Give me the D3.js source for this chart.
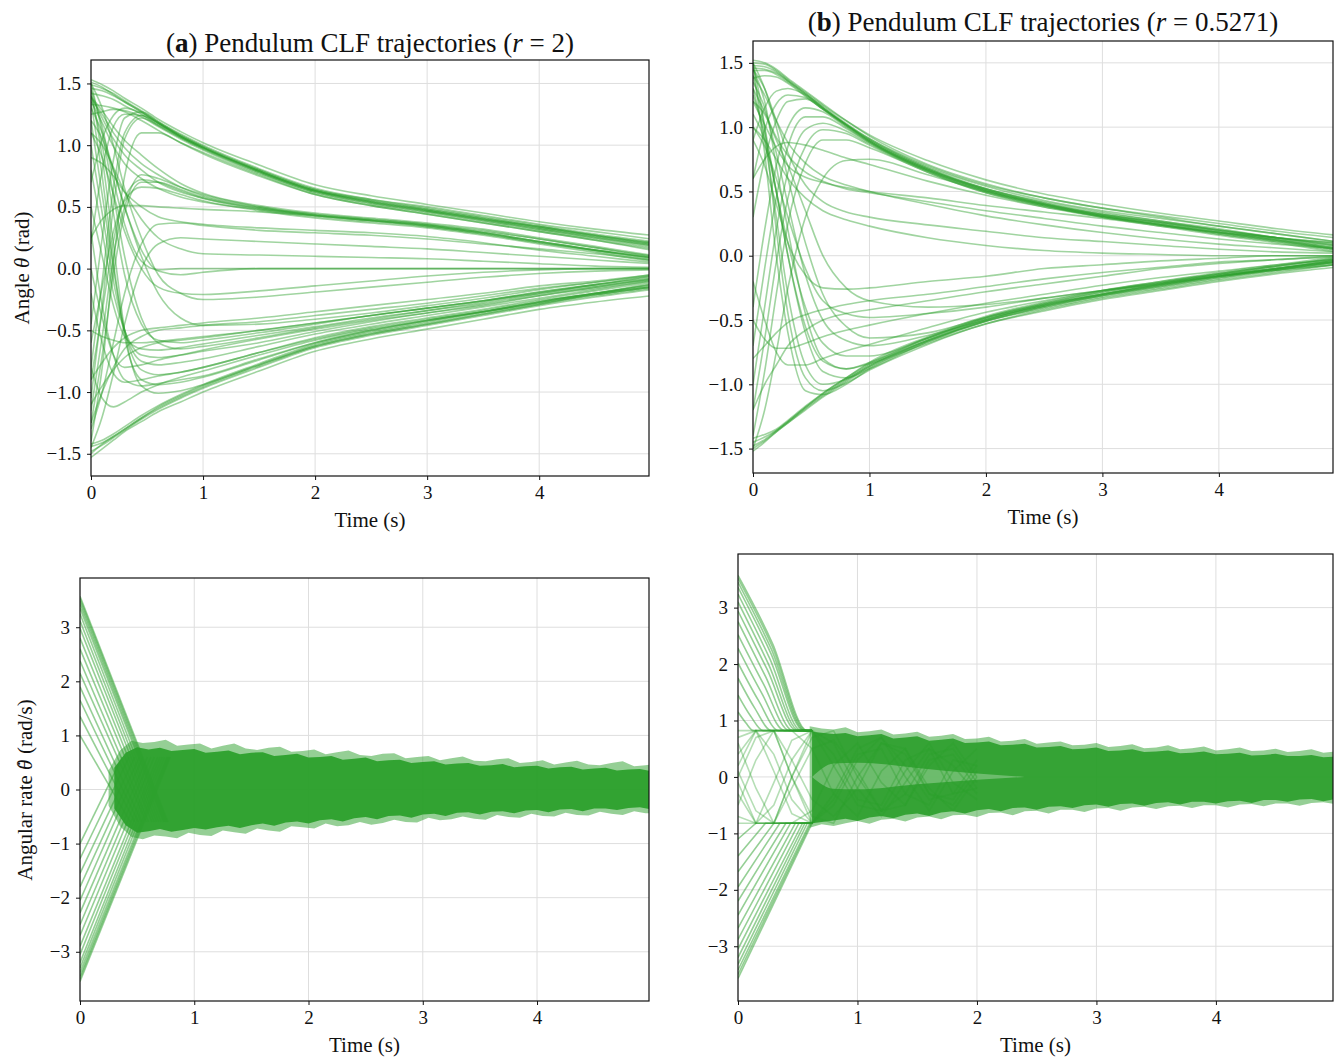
<!DOCTYPE html>
<html>
<head>
<meta charset="utf-8">
<script src="https://cdn.jsdelivr.net/npm/d3@7"></script>
<style>
  body { margin: 0; background: #fff; }
  svg text { font-family: "Liberation Serif", "Times New Roman", serif; fill: #111; }
</style>
</head>
<body>
<div id="chart"></div>
<script>
// ---------- data ----------
const xTicks = [0, 1, 2, 3, 4];
const angleTicks = [-1.5, -1.0, -0.5, 0.0, 0.5, 1.0, 1.5];
const rateTicks = [-3, -2, -1, 0, 1, 2, 3];

// sample times (s) for the angle trajectories
const tKnots = [0, 0.1, 0.2, 0.3, 0.45, 0.6, 0.8, 1, 1.5, 2, 2.5, 3, 3.5, 4, 4.5, 5];

// (a) angle trajectories, r = 2
const angleA = [
  [1.53,1.49,1.44,1.38,1.30,1.21,1.11,1.02,0.84,0.68,0.59,0.52,0.45,0.38,0.32,0.27],
  [1.49,1.46,1.42,1.36,1.28,1.19,1.09,1.00,0.81,0.65,0.56,0.49,0.42,0.35,0.28,0.22],
  [1.42,1.40,1.37,1.32,1.25,1.16,1.06,0.97,0.78,0.62,0.53,0.46,0.39,0.32,0.25,0.19],
  [1.33,1.32,1.30,1.27,1.20,1.12,1.02,0.93,0.75,0.60,0.51,0.44,0.37,0.30,0.23,0.16],
  [1.25,1.27,1.29,1.28,1.23,1.15,1.05,0.96,0.77,0.61,0.52,0.45,0.38,0.31,0.24,0.17],
  [0.70,1.05,1.24,1.30,1.26,1.18,1.07,0.98,0.79,0.63,0.54,0.47,0.40,0.33,0.26,0.20],
  [-0.45,0.25,0.88,1.22,1.27,1.19,1.08,0.99,0.80,0.64,0.55,0.48,0.41,0.34,0.27,0.21],
  [-1.05,-0.30,0.50,1.05,1.22,1.16,1.06,0.97,0.78,0.62,0.53,0.46,0.39,0.32,0.25,0.18],
  [-1.40,-0.80,0.05,0.75,1.10,1.10,1.02,0.94,0.76,0.60,0.51,0.44,0.37,0.30,0.23,0.15],
  [1.39,1.28,1.15,1.04,0.92,0.81,0.69,0.61,0.51,0.45,0.41,0.37,0.32,0.25,0.18,0.11],
  [1.36,1.18,0.99,0.85,0.73,0.65,0.58,0.54,0.48,0.43,0.39,0.35,0.29,0.22,0.15,0.09],
  [1.40,1.22,1.05,0.92,0.80,0.70,0.62,0.57,0.49,0.44,0.40,0.36,0.30,0.24,0.17,0.10],
  [-1.15,-0.55,0.10,0.50,0.76,0.73,0.66,0.60,0.50,0.43,0.39,0.35,0.29,0.22,0.15,0.08],
  [-0.90,-0.35,0.22,0.57,0.72,0.70,0.63,0.57,0.48,0.42,0.38,0.34,0.28,0.21,0.14,0.07],
  [-0.60,-0.15,0.30,0.55,0.66,0.65,0.60,0.55,0.47,0.41,0.37,0.33,0.27,0.20,0.13,0.06],
  [0.25,0.40,0.48,0.51,0.51,0.50,0.49,0.48,0.46,0.43,0.39,0.34,0.28,0.21,0.15,0.09],
  [-1.30,-1.00,-0.60,-0.20,0.20,0.36,0.37,0.35,0.31,0.29,0.27,0.24,0.20,0.16,0.12,0.07],
  [-1.45,-1.20,-0.85,-0.45,0.00,0.20,0.25,0.24,0.22,0.20,0.18,0.16,0.13,0.10,0.07,0.04],
  [0.90,0.85,0.75,0.62,0.50,0.42,0.38,0.36,0.33,0.31,0.29,0.26,0.21,0.15,0.10,0.05],
  [1.10,1.00,0.82,0.62,0.40,0.25,0.16,0.12,0.11,0.10,0.09,0.08,0.06,0.04,0.02,0.01],
  [1.45,1.15,0.72,0.36,0.06,-0.01,0.00,0.00,0.00,0.00,0.00,0.00,0.00,0.00,0.00,0.00],
  [1.20,1.05,0.80,0.50,0.15,-0.02,-0.05,-0.03,0.00,0.00,0.00,0.00,0.00,0.00,0.00,0.00],
  [1.51,1.47,1.41,1.35,1.27,1.18,1.08,0.99,0.80,0.64,0.56,0.50,0.43,0.36,0.30,0.24],
  [1.46,1.44,1.40,1.35,1.27,1.18,1.07,0.98,0.79,0.63,0.54,0.47,0.40,0.34,0.27,0.21],
  [0.20,0.80,1.15,1.25,1.24,1.17,1.07,0.98,0.79,0.63,0.55,0.48,0.41,0.34,0.27,0.20],
  [-0.80,-0.10,0.65,1.10,1.24,1.18,1.07,0.98,0.79,0.63,0.54,0.47,0.40,0.33,0.26,0.19],
  [1.38,1.25,1.10,0.98,0.85,0.76,0.66,0.59,0.50,0.44,0.40,0.36,0.31,0.24,0.17,0.10],
  [-1.25,-0.70,-0.05,0.45,0.70,0.70,0.64,0.58,0.49,0.43,0.39,0.35,0.29,0.22,0.15,0.09],
  [-1.53,-1.46,-1.39,-1.32,-1.24,-1.16,-1.08,-1.00,-0.83,-0.67,-0.57,-0.49,-0.41,-0.33,-0.27,-0.22],
  [-1.48,-1.43,-1.37,-1.31,-1.22,-1.14,-1.05,-0.97,-0.80,-0.64,-0.54,-0.46,-0.38,-0.30,-0.23,-0.17],
  [-1.42,-1.39,-1.34,-1.28,-1.19,-1.11,-1.02,-0.94,-0.77,-0.61,-0.51,-0.43,-0.35,-0.27,-0.20,-0.14],
  [-1.50,-1.42,-1.36,-1.30,-1.21,-1.13,-1.04,-0.96,-0.79,-0.63,-0.53,-0.45,-0.37,-0.29,-0.22,-0.16],
  [-1.44,-1.41,-1.36,-1.30,-1.21,-1.12,-1.03,-0.95,-0.78,-0.62,-0.52,-0.44,-0.36,-0.28,-0.21,-0.15],
  [1.45,0.90,0.20,-0.50,-0.95,-1.01,-0.99,-0.94,-0.78,-0.63,-0.53,-0.45,-0.37,-0.29,-0.21,-0.15],
  [1.35,0.75,0.05,-0.55,-0.90,-0.94,-0.92,-0.88,-0.74,-0.60,-0.50,-0.42,-0.35,-0.27,-0.20,-0.13],
  [1.20,0.60,0.00,-0.50,-0.82,-0.86,-0.84,-0.80,-0.68,-0.56,-0.47,-0.40,-0.33,-0.25,-0.18,-0.11],
  [1.00,0.45,-0.10,-0.50,-0.75,-0.78,-0.76,-0.73,-0.63,-0.53,-0.45,-0.38,-0.31,-0.24,-0.17,-0.10],
  [0.80,0.30,-0.20,-0.50,-0.70,-0.72,-0.70,-0.67,-0.60,-0.51,-0.43,-0.36,-0.30,-0.22,-0.15,-0.08],
  [1.50,1.10,0.60,0.10,-0.40,-0.60,-0.65,-0.63,-0.56,-0.48,-0.41,-0.34,-0.27,-0.20,-0.13,-0.07],
  [1.40,1.00,0.45,-0.05,-0.45,-0.58,-0.60,-0.58,-0.52,-0.45,-0.38,-0.32,-0.26,-0.19,-0.13,-0.06],
  [1.30,1.10,0.80,0.50,0.10,-0.20,-0.40,-0.46,-0.45,-0.41,-0.36,-0.30,-0.24,-0.17,-0.11,-0.05],
  [1.10,0.90,0.60,0.30,0.00,-0.15,-0.20,-0.21,-0.18,-0.14,-0.10,-0.06,-0.03,-0.01,0.00,0.00],
  [1.50,1.30,1.00,0.65,0.25,-0.05,-0.20,-0.25,-0.23,-0.19,-0.15,-0.11,-0.07,-0.04,-0.02,-0.01],
  [-1.25,-1.00,-0.80,-0.65,-0.55,-0.50,-0.48,-0.46,-0.43,-0.38,-0.33,-0.28,-0.22,-0.16,-0.11,-0.06],
  [-1.10,-0.95,-0.82,-0.72,-0.64,-0.60,-0.58,-0.56,-0.50,-0.44,-0.38,-0.32,-0.26,-0.19,-0.13,-0.08],
  [-0.90,-0.76,-0.64,-0.56,-0.50,-0.48,-0.46,-0.44,-0.40,-0.35,-0.30,-0.25,-0.20,-0.14,-0.10,-0.05],
  [-0.50,-0.55,-0.58,-0.60,-0.60,-0.59,-0.57,-0.55,-0.50,-0.44,-0.38,-0.32,-0.26,-0.20,-0.14,-0.09],
  [0.50,0.10,-0.30,-0.55,-0.65,-0.66,-0.64,-0.61,-0.54,-0.47,-0.40,-0.34,-0.28,-0.21,-0.15,-0.09],
  [0.30,-0.30,-0.70,-0.90,-0.95,-0.93,-0.90,-0.87,-0.73,-0.60,-0.50,-0.42,-0.35,-0.28,-0.21,-0.15],
  [-0.20,-0.60,-0.85,-0.92,-0.90,-0.87,-0.84,-0.80,-0.68,-0.57,-0.48,-0.41,-0.34,-0.26,-0.20,-0.12],
  [-0.80,-1.05,-1.12,-1.08,-1.00,-0.94,-0.88,-0.83,-0.70,-0.58,-0.49,-0.42,-0.35,-0.27,-0.20,-0.13],
  [0.00,-0.40,-0.70,-0.80,-0.78,-0.74,-0.70,-0.66,-0.57,-0.49,-0.42,-0.36,-0.29,-0.22,-0.16,-0.10]
];

// (b) angle trajectories, r = 0.5271
const angleB = [
  [1.52,1.50,1.45,1.38,1.28,1.18,1.05,0.93,0.71,0.56,0.45,0.37,0.31,0.25,0.19,0.14],
  [1.50,1.49,1.44,1.37,1.27,1.17,1.05,0.94,0.74,0.59,0.48,0.40,0.33,0.27,0.21,0.16],
  [1.48,1.47,1.43,1.36,1.26,1.16,1.03,0.91,0.69,0.54,0.43,0.35,0.29,0.23,0.17,0.11],
  [1.46,1.45,1.42,1.36,1.26,1.15,1.02,0.89,0.66,0.50,0.39,0.30,0.24,0.17,0.11,0.05],
  [1.44,1.44,1.41,1.35,1.25,1.15,1.02,0.90,0.68,0.52,0.41,0.33,0.27,0.20,0.14,0.08],
  [1.38,1.40,1.39,1.34,1.24,1.14,1.01,0.89,0.67,0.51,0.40,0.31,0.25,0.18,0.12,0.05],
  [0.90,1.15,1.28,1.30,1.25,1.15,1.02,0.90,0.68,0.52,0.41,0.32,0.26,0.19,0.13,0.06],
  [0.60,0.98,1.18,1.25,1.23,1.14,1.02,0.91,0.70,0.55,0.45,0.37,0.30,0.23,0.17,0.11],
  [0.30,0.75,1.05,1.20,1.22,1.14,1.01,0.89,0.67,0.52,0.42,0.34,0.27,0.21,0.14,0.08],
  [-0.40,0.20,0.70,1.00,1.15,1.12,1.00,0.88,0.66,0.50,0.39,0.30,0.24,0.17,0.11,0.04],
  [-0.70,-0.10,0.45,0.85,1.08,1.08,0.99,0.88,0.67,0.51,0.40,0.31,0.24,0.18,0.12,0.06],
  [-1.00,-0.40,0.20,0.65,0.98,1.03,0.97,0.87,0.66,0.51,0.40,0.32,0.26,0.20,0.14,0.09],
  [-1.20,-0.65,-0.05,0.45,0.85,0.98,0.95,0.86,0.65,0.49,0.39,0.31,0.24,0.18,0.12,0.05],
  [-1.40,-0.90,-0.30,0.25,0.72,0.90,0.90,0.84,0.65,0.49,0.38,0.30,0.23,0.16,0.10,0.03],
  [-1.50,-1.20,-0.75,-0.25,0.30,0.60,0.74,0.75,0.63,0.50,0.40,0.32,0.26,0.20,0.14,0.10],
  [1.30,1.12,0.92,0.78,0.65,0.58,0.52,0.49,0.42,0.35,0.29,0.23,0.18,0.13,0.09,0.06],
  [1.40,1.25,1.05,0.88,0.72,0.62,0.55,0.50,0.40,0.31,0.24,0.18,0.13,0.09,0.06,0.03],
  [1.20,1.02,0.84,0.70,0.61,0.57,0.53,0.50,0.45,0.39,0.34,0.29,0.23,0.18,0.14,0.10],
  [1.45,1.30,1.05,0.80,0.55,0.42,0.34,0.30,0.24,0.19,0.14,0.11,0.08,0.05,0.03,0.02],
  [1.00,0.90,0.75,0.60,0.45,0.35,0.28,0.23,0.14,0.08,0.04,0.02,0.01,0.00,0.00,0.00],
  [0.60,0.75,0.85,0.88,0.86,0.82,0.76,0.71,0.58,0.47,0.38,0.31,0.25,0.19,0.13,0.07],
  [-1.52,-1.45,-1.37,-1.30,-1.19,-1.09,-0.97,-0.86,-0.66,-0.51,-0.41,-0.32,-0.25,-0.18,-0.12,-0.07],
  [-1.50,-1.44,-1.37,-1.30,-1.20,-1.10,-0.98,-0.87,-0.68,-0.53,-0.43,-0.34,-0.27,-0.20,-0.14,-0.09],
  [-1.48,-1.43,-1.36,-1.29,-1.18,-1.08,-0.96,-0.85,-0.65,-0.49,-0.39,-0.30,-0.23,-0.16,-0.10,-0.04],
  [-1.45,-1.41,-1.36,-1.29,-1.18,-1.07,-0.95,-0.83,-0.63,-0.47,-0.36,-0.27,-0.20,-0.13,-0.07,-0.01],
  [-1.42,-1.39,-1.35,-1.28,-1.17,-1.07,-0.95,-0.84,-0.64,-0.48,-0.37,-0.28,-0.21,-0.14,-0.08,-0.02],
  [1.50,0.80,0.00,-0.60,-1.05,-1.08,-1.00,-0.88,-0.67,-0.51,-0.40,-0.31,-0.23,-0.16,-0.10,-0.03],
  [1.50,1.00,0.20,-0.45,-0.95,-1.05,-0.99,-0.89,-0.69,-0.53,-0.42,-0.33,-0.26,-0.19,-0.13,-0.07],
  [1.40,1.00,0.50,0.00,-0.60,-0.90,-0.95,-0.88,-0.67,-0.51,-0.40,-0.31,-0.24,-0.17,-0.11,-0.05],
  [1.30,0.90,0.30,-0.30,-0.85,-1.00,-0.96,-0.86,-0.66,-0.50,-0.39,-0.30,-0.22,-0.15,-0.09,-0.04],
  [1.25,0.95,0.50,0.00,-0.55,-0.82,-0.88,-0.83,-0.64,-0.48,-0.37,-0.28,-0.21,-0.14,-0.08,-0.02],
  [1.45,1.20,0.70,0.20,-0.45,-0.80,-0.88,-0.84,-0.66,-0.50,-0.38,-0.29,-0.22,-0.15,-0.10,-0.05],
  [1.10,0.90,0.50,0.10,-0.40,-0.68,-0.78,-0.78,-0.64,-0.49,-0.38,-0.30,-0.22,-0.16,-0.10,-0.04],
  [1.35,1.15,0.80,0.40,-0.15,-0.50,-0.66,-0.70,-0.62,-0.50,-0.39,-0.31,-0.24,-0.17,-0.11,-0.05],
  [1.50,1.30,1.00,0.60,0.10,-0.30,-0.55,-0.64,-0.60,-0.48,-0.38,-0.30,-0.23,-0.16,-0.11,-0.06],
  [1.00,0.85,0.60,0.30,-0.10,-0.35,-0.45,-0.48,-0.45,-0.40,-0.33,-0.27,-0.21,-0.15,-0.10,-0.05],
  [1.20,1.10,0.90,0.70,0.35,0.00,-0.25,-0.35,-0.40,-0.38,-0.33,-0.27,-0.22,-0.16,-0.11,-0.07],
  [0.90,0.70,0.40,0.10,-0.15,-0.25,-0.26,-0.25,-0.20,-0.16,-0.10,-0.07,-0.04,-0.02,0.00,0.00],
  [-1.20,-1.00,-0.85,-0.70,-0.58,-0.50,-0.45,-0.42,-0.35,-0.28,-0.22,-0.16,-0.10,-0.06,-0.03,-0.01],
  [-0.80,-0.70,-0.60,-0.52,-0.46,-0.42,-0.38,-0.35,-0.30,-0.24,-0.18,-0.13,-0.09,-0.05,-0.03,0.00],
  [-0.50,-0.65,-0.72,-0.72,-0.68,-0.63,-0.58,-0.54,-0.45,-0.37,-0.30,-0.23,-0.17,-0.12,-0.07,-0.03],
  [-0.20,-0.50,-0.75,-0.85,-0.85,-0.80,-0.74,-0.69,-0.56,-0.44,-0.35,-0.27,-0.20,-0.14,-0.08,-0.03]
];

// (c) angular rate, r = 2: straight initial ramps (start value, time they reach rampEndC)
const rampPosStartC = [3.57,3.53,3.48,3.42,3.35,3.25,3.12,2.98,2.80,2.60,2.38,2.15,1.90,1.65,1.35,1.00];
const rampPosTimeC  = [0.77,0.76,0.75,0.74,0.73,0.71,0.69,0.67,0.65,0.63,0.60,0.58,0.54,0.51,0.48,0.44];
const rampNegStartC = [-3.55,-3.50,-3.45,-3.38,-3.30,-3.20,-3.05,-2.90,-2.70,-2.50,-2.28,-2.05,-1.80,-1.55,-1.28,-1.00];
const rampNegTimeC  = [0.79,0.78,0.77,0.76,0.74,0.72,0.70,0.68,0.65,0.62,0.59,0.55,0.52,0.48,0.43,0.37];
const rampEndC = 0.6;

// (c) noisy band: light outer spikes (t = 0.25 ... 5.05 every 0.1 s)
const fringeTimeC = d3.range(5, 102, 2).map(i => i / 20);
const fringeTopC = [0.35,0.72,0.90,0.86,0.88,0.92,0.81,0.83,0.85,0.76,
  0.81,0.85,0.76,0.73,0.77,0.79,0.70,0.71,0.74,0.65,
  0.69,0.72,0.64,0.62,0.66,0.67,0.58,0.60,0.62,0.54,
  0.58,0.61,0.53,0.52,0.56,0.58,0.49,0.51,0.54,0.46,
  0.50,0.53,0.46,0.45,0.49,0.52,0.43,0.45,0.47];
const fringeBotC = [-0.30,-0.68,-0.88,-0.92,-0.85,-0.87,-0.90,-0.80,-0.84,-0.86,
  -0.76,-0.79,-0.82,-0.72,-0.76,-0.78,-0.68,-0.70,-0.72,-0.63,
  -0.68,-0.66,-0.60,-0.65,-0.62,-0.56,-0.60,-0.61,-0.52,-0.57,
  -0.55,-0.50,-0.54,-0.56,-0.47,-0.51,-0.52,-0.45,-0.49,-0.50,
  -0.43,-0.47,-0.48,-0.41,-0.45,-0.47,-0.40,-0.44,-0.43];
// (c) dense core (t = 0.3 ... 5.0 every 0.1 s)
const coreTimeC = d3.range(3, 51).map(i => i / 10);
const coreTopC = [0.40,0.68,0.78,0.74,0.77,0.71,0.73,0.75,
  0.68,0.70,0.72,0.65,0.68,0.69,0.62,0.64,0.66,0.59,
  0.60,0.62,0.55,0.57,0.59,0.52,0.54,0.55,0.49,0.51,
  0.52,0.46,0.48,0.49,0.44,0.45,0.47,0.41,0.43,0.44,
  0.39,0.41,0.42,0.37,0.39,0.40,0.35,0.37,0.38,0.34];
const coreBotC = [-0.35,-0.66,-0.80,-0.77,-0.73,-0.78,-0.75,-0.71,
  -0.74,-0.70,-0.67,-0.71,-0.66,-0.63,-0.67,-0.61,-0.59,-0.63,
  -0.57,-0.55,-0.59,-0.53,-0.51,-0.55,-0.49,-0.48,-0.52,-0.46,
  -0.45,-0.49,-0.43,-0.42,-0.46,-0.41,-0.40,-0.44,-0.39,-0.38,
  -0.42,-0.37,-0.36,-0.40,-0.35,-0.35,-0.38,-0.34,-0.33,-0.37];

// (d) angular rate, r = 0.5271: ramps that saturate at +-0.82 rad/s
const rampPosStartD = [3.57,3.52,3.45,3.36,3.24,3.10,2.94,2.75,2.52,2.28,2.02,1.75,1.45,1.15];
const rampPosMidD   = [2.36,2.32,2.26,2.19,2.10,2.00,1.90,1.78,1.64,1.50,1.36,1.22,1.08,0.96];
const rampPosTimeD  = [0.58,0.57,0.56,0.55,0.53,0.51,0.49,0.46,0.43,0.39,0.34,0.28,0.21,0.13];
const rampNegStartD = [-3.57,-3.50,-3.42,-3.32,-3.20,-3.05,-2.88,-2.68,-2.45,-2.20,-1.95,-1.68,-1.40,-1.10];
const rampNegTimeD  = [0.62,0.61,0.60,0.58,0.56,0.54,0.51,0.48,0.44,0.40,0.35,0.30,0.23,0.15];
const satLevelD = 0.82;
const satEndD = 0.62;

// (d) criss-cross lines inside the band
const latticeTimeD = [0, 0.15, 0.3, 0.45, 0.62, 0.8, 1.0, 1.2, 1.4, 1.6, 1.8, 2.0];
const latticeD = [
  [0.6,-0.2,-0.82,-0.82,-0.6,0.2,0.6,-0.1,-0.5,0.3,0.4,-0.2],
  [-0.5,0.3,0.82,0.82,0.5,-0.3,-0.7,0.1,0.5,-0.3,-0.4,0.2],
  [0.82,0.82,0.1,-0.65,-0.82,-0.3,0.5,0.7,0.0,-0.6,0.1,0.5],
  [-0.82,-0.82,-0.1,0.65,0.82,0.2,-0.5,-0.6,0.1,0.6,-0.1,-0.4],
  [0.2,0.82,0.82,0.3,-0.4,-0.7,-0.2,0.6,0.4,-0.3,-0.5,0.1],
  [-0.1,-0.82,-0.82,-0.2,0.5,0.65,0.1,-0.6,-0.3,0.4,0.5,-0.1],
  [0.4,0.82,0.4,-0.4,-0.82,-0.5,0.3,0.7,0.2,-0.4,-0.3,0.3],
  [-0.3,-0.82,-0.5,0.3,0.82,0.6,-0.2,-0.7,-0.1,0.5,0.2,-0.3],
  [0.0,0.7,0.82,0.0,-0.82,-0.4,0.4,0.5,-0.3,-0.5,0.3,0.2],
  [0.1,-0.6,-0.82,0.0,0.82,0.4,-0.4,-0.5,0.3,0.5,-0.3,-0.2],
  [0.7,0.82,0.82,0.0,-0.7,-0.82,0.0,0.6,0.5,-0.2,-0.6,0.0],
  [-0.7,-0.82,-0.82,0.0,0.7,0.82,0.0,-0.6,-0.5,0.2,0.6,0.0]
];

// (d) band: light outer spikes (t = 0.6 ... 5.0) and dense core
const fringeTimeD = d3.range(12, 101, 2).map(i => i / 20);
const fringeTopD = [0.90,0.86,0.84,0.88,0.79,0.81,0.84,0.75,0.77,0.80,
  0.71,0.73,0.76,0.67,0.68,0.71,0.63,0.64,0.67,0.59,
  0.61,0.63,0.56,0.57,0.60,0.53,0.55,0.58,0.51,0.52,
  0.56,0.49,0.51,0.54,0.47,0.49,0.52,0.46,0.47,0.50,
  0.44,0.46,0.49,0.43,0.45];
const fringeBotD = [-0.90,-0.84,-0.87,-0.82,-0.78,-0.83,-0.76,-0.74,-0.79,-0.72,
  -0.70,-0.75,-0.68,-0.67,-0.71,-0.64,-0.63,-0.68,-0.61,-0.60,
  -0.65,-0.58,-0.58,-0.62,-0.56,-0.55,-0.60,-0.54,-0.53,-0.57,
  -0.52,-0.51,-0.55,-0.50,-0.50,-0.54,-0.49,-0.48,-0.52,-0.47,
  -0.47,-0.51,-0.46,-0.45,-0.48];
const coreTimeD = [0.62].concat(d3.range(8, 51).map(i => i / 10));
const coreTopD = [0.80,0.76,0.78,0.72,0.74,0.76,0.68,0.70,0.72,0.64,
  0.66,0.68,0.60,0.61,0.63,0.56,0.57,0.59,0.52,0.53,
  0.55,0.49,0.50,0.52,0.46,0.47,0.49,0.44,0.45,0.47,
  0.42,0.43,0.45,0.40,0.41,0.43,0.38,0.39,0.41,0.37,
  0.37,0.39,0.35,0.36];
const coreBotD = [-0.82,-0.77,-0.74,-0.78,-0.72,-0.69,-0.73,-0.67,-0.65,-0.69,
  -0.63,-0.61,-0.65,-0.59,-0.57,-0.61,-0.55,-0.54,-0.58,-0.53,
  -0.52,-0.55,-0.50,-0.49,-0.53,-0.48,-0.47,-0.51,-0.46,-0.45,
  -0.49,-0.44,-0.44,-0.47,-0.43,-0.42,-0.46,-0.41,-0.41,-0.44,
  -0.40,-0.39,-0.43,-0.39];
// lighter middle of the (d) band before the trajectories mix
const gapTimeD = [0.62, 0.8, 1, 1.5, 2, 2.4];
const gapTopD = [0.0, 0.24, 0.25, 0.16, 0.06, 0];
const gapBotD = [0.0, -0.21, -0.22, -0.13, -0.05, 0];

// ---------- layout ----------
const W = 1335, H = 1061;
const green = "#2ca02c";
const xDomain = [0, 4.98];

const svg = d3.select("#chart").append("svg")
    .attr("width", W)
    .attr("height", H);

let clipCount = 0;

function makePanel(box, yDomain, yTicks, fmt) {
    const x = d3.scaleLinear().domain(xDomain).range([box.left, box.right]);
    const y = d3.scaleLinear().domain(yDomain).range([box.bottom, box.top]);
    const g = svg.append("g");

    // grid
    g.append("g").selectAll("line").data(xTicks).join("line")
        .attr("x1", d => x(d)).attr("x2", d => x(d))
        .attr("y1", box.top).attr("y2", box.bottom)
        .attr("stroke", "#dedede").attr("stroke-width", 1);
    g.append("g").selectAll("line").data(yTicks).join("line")
        .attr("x1", box.left).attr("x2", box.right)
        .attr("y1", d => y(d)).attr("y2", d => y(d))
        .attr("stroke", "#dedede").attr("stroke-width", 1);

    const id = "clip" + (clipCount++);
    svg.append("clipPath").attr("id", id).append("rect")
        .attr("x", box.left).attr("y", box.top)
        .attr("width", box.right - box.left).attr("height", box.bottom - box.top);
    const plot = g.append("g").attr("clip-path", `url(#${id})`);

    return {x, y, g, plot, box, yTicks, fmt};
}

function finishPanel(p) {
    const {x, y, g, box} = p;
    const ax = g.append("g")
        .attr("transform", `translate(0,${box.bottom})`)
        .call(d3.axisBottom(x).tickValues(xTicks).tickSize(4).tickPadding(6).tickFormat(d3.format("d")));
    const ay = g.append("g")
        .attr("transform", `translate(${box.left},0)`)
        .call(d3.axisLeft(y).tickValues(p.yTicks).tickSize(4).tickPadding(6).tickFormat(p.fmt));
    [ax, ay].forEach(a => {
        a.select(".domain").remove();
        a.selectAll("line").attr("stroke", "#111").attr("stroke-width", 1);
        a.selectAll("text").attr("font-size", 19).attr("font-family", "Liberation Serif, serif").attr("fill", "#111");
    });
    g.append("rect")
        .attr("x", box.left).attr("y", box.top)
        .attr("width", box.right - box.left).attr("height", box.bottom - box.top)
        .attr("fill", "none").attr("stroke", "#111").attr("stroke-width", 1.2);
    g.append("text")
        .attr("x", (box.left + box.right) / 2)
        .attr("y", box.bottom + 51)
        .attr("text-anchor", "middle")
        .attr("font-size", 21)
        .text("Time (s)");
}

function drawAngle(p, series) {
    const line = d3.line()
        .x((d, i) => p.x(tKnots[i]))
        .y(d => p.y(d))
        .curve(d3.curveMonotoneX);
    p.plot.selectAll(".traj").data(series).join("path")
        .attr("class", "traj")
        .attr("d", line)
        .attr("fill", "none")
        .attr("stroke", green)
        .attr("stroke-width", 1.6)
        .attr("stroke-opacity", 0.45);
}

function drawBand(p, times, top, bot, color, opacity, curve) {
    const area = d3.area()
        .x((d, i) => p.x(times[i]))
        .y0((d, i) => p.y(bot[i]))
        .y1(d => p.y(d))
        .curve(curve);
    p.plot.append("path")
        .attr("d", area(top))
        .attr("fill", color)
        .attr("fill-opacity", opacity);
}

function drawPolylines(p, list, opacity, curve) {
    const line = d3.line().x(d => p.x(d[0])).y(d => p.y(d[1])).curve(curve || d3.curveLinear);
    p.plot.append("g").selectAll("path").data(list).join("path")
        .attr("d", line)
        .attr("fill", "none")
        .attr("stroke", green)
        .attr("stroke-width", 1.6)
        .attr("stroke-opacity", opacity);
}

const fmtAngle = d3.format(".1f");
const fmtRate = d3.format("d");

// ---------- (a) ----------
const pa = makePanel({left: 91, top: 60, right: 649, bottom: 476}, [-1.68, 1.69], angleTicks, fmtAngle);
drawAngle(pa, angleA);
finishPanel(pa);

// ---------- (b) ----------
const pb = makePanel({left: 753, top: 41, right: 1333, bottom: 473}, [-1.69, 1.67], angleTicks, fmtAngle);
drawAngle(pb, angleB);
finishPanel(pb);

// ---------- (c) ----------
const pc = makePanel({left: 80, top: 578, right: 649, bottom: 1001}, [-3.91, 3.91], rateTicks, fmtRate);
drawPolylines(pc, rampPosStartC.map((v, i) => [[0, v], [rampPosTimeC[i], -rampEndC]]), 0.5);
drawPolylines(pc, rampNegStartC.map((v, i) => [[0, v], [rampNegTimeC[i], rampEndC]]), 0.5);
drawBand(pc, fringeTimeC, fringeTopC, fringeBotC, green, 0.5, d3.curveLinear);
drawBand(pc, coreTimeC, coreTopC, coreBotC, green, 0.95, d3.curveLinear);
finishPanel(pc);

// ---------- (d) ----------
const pd = makePanel({left: 738, top: 554, right: 1333, bottom: 1001}, [-3.97, 3.95], rateTicks, fmtRate);
drawBand(pd, fringeTimeD, fringeTopD, fringeBotD, green, 0.5, d3.curveLinear);
drawBand(pd, coreTimeD, coreTopD, coreBotD, green, 0.92, d3.curveLinear);
drawBand(pd, gapTimeD, gapTopD, gapBotD, "#fff", 0.28, d3.curveMonotoneX);
drawPolylines(pd, latticeD.map(s => s.map((v, i) => [latticeTimeD[i], v])), 0.35);
drawPolylines(pd, rampPosStartD.map((v, i) => [[0, v], [rampPosTimeD[i] / 2, rampPosMidD[i]], [rampPosTimeD[i], satLevelD], [satEndD, satLevelD]]), 0.5, d3.curveMonotoneX);
drawPolylines(pd, rampNegStartD.map((v, i) => [[0, v], [rampNegTimeD[i], -satLevelD], [satEndD, -satLevelD]]), 0.5);
finishPanel(pd);

// ---------- titles and y labels ----------
function title(cx, y, letter, rText) {
    const t = svg.append("text").attr("x", cx).attr("y", y)
        .attr("text-anchor", "middle").attr("font-size", 27);
    t.append("tspan").text("(");
    t.append("tspan").attr("font-weight", "bold").text(letter);
    t.append("tspan").text(") Pendulum CLF trajectories (");
    t.append("tspan").attr("font-style", "italic").text("r");
    t.append("tspan").text(" = " + rText + ")");
}
title(370, 52, "a", "2");
title(1043, 31, "b", "0.5271");

const ya = svg.append("text")
    .attr("transform", "translate(29,268) rotate(-90)")
    .attr("text-anchor", "middle").attr("font-size", 21);
ya.append("tspan").text("Angle ");
ya.append("tspan").attr("font-style", "italic").text("θ");
ya.append("tspan").text(" (rad)");

const yc = svg.append("text")
    .attr("transform", "translate(32,790) rotate(-90)")
    .attr("text-anchor", "middle").attr("font-size", 21);
yc.append("tspan").text("Angular rate ");
yc.append("tspan").attr("font-style", "italic").text("θ");
yc.append("tspan").attr("dx", "-0.36em").text("˙");
yc.append("tspan").attr("dx", "0.04em").text(" (rad/s)");
</script>
</body>
</html>
